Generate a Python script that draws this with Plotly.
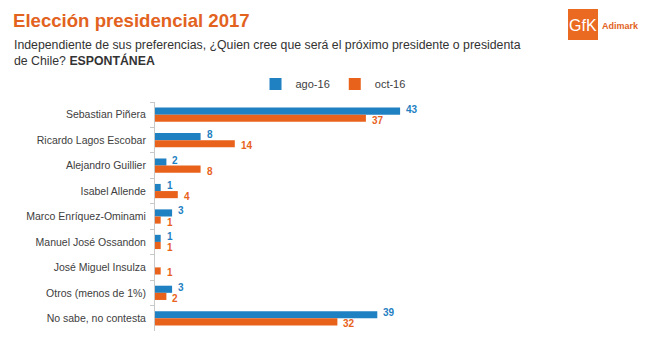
import plotly.graph_objects as go

# Survey data (percent)
candidates = [
    "Sebastian Piñera",
    "Ricardo Lagos Escobar",
    "Alejandro Guillier",
    "Isabel Allende",
    "Marco Enríquez-Ominami",
    "Manuel José Ossandon",
    "José Miguel Insulza",
    "Otros (menos de 1%)",
    "No sabe, no contesta",
]
ago16 = [43, 8, 2, 1, 3, 1, None, 3, 39]
oct16 = [37, 14, 8, 4, 1, 1, 1, 2, 32]

BLUE = "#1F80C2"
ORANGE = "#E8621C"

# page geometry
W_PAGE, H_PAGE = 649, 337
L, R, T, B = 155, 209, 102, 6
PW = W_PAGE - L - R
PH = H_PAGE - T - B
BARGAP = 0.44


def px(x):
    return (x - L) / PW


def py(y):
    return (H_PAGE - B - y) / PH


fig = go.Figure()
for name, vals, color in (("ago-16", ago16, BLUE), ("oct-16", oct16, ORANGE)):
    fig.add_trace(go.Bar(
        y=candidates, x=vals, name=name, orientation="h",
        marker=dict(color=color, line=dict(width=0)),
    ))

# value labels next to each bar end, nudged apart vertically
half = (1 - BARGAP) / 4
for i, cat in enumerate(candidates):
    for vals, color, off, shift in ((ago16, BLUE, -half, 2), (oct16, ORANGE, half, -2)):
        v = vals[i]
        if v is None:
            continue
        fig.add_annotation(
            x=v, y=i + off, xref="x", yref="y", text=f"<b>{v}</b>",
            showarrow=False, xanchor="left", yanchor="middle",
            xshift=4, yshift=shift,
            font=dict(family="Arial", size=10, color=color),
        )

fig.update_layout(
    width=W_PAGE, height=H_PAGE,
    margin=dict(l=L, r=R, t=T, b=B),
    paper_bgcolor="white", plot_bgcolor="white",
    barmode="group", bargap=BARGAP, bargroupgap=0,
    font=dict(family="Arial", color="#404040"),
    showlegend=True,
    legend=dict(
        orientation="h", x=px(333), xanchor="center", y=py(84), yanchor="middle",
        font=dict(size=11, color="#404040"), itemwidth=30,
        bgcolor="rgba(0,0,0,0)", traceorder="normal",
    ),
    xaxis=dict(range=[0, 50], visible=False, fixedrange=True),
    yaxis=dict(
        autorange="reversed", showline=True, linecolor="#c8c8c8", linewidth=1,
        ticks="outside", tickson="boundaries", ticklen=4, tickcolor="#c8c8c8",
        tickfont=dict(family="Arial", size=10.5, color="#404040"),
        showgrid=False, zeroline=False, ticklabelstandoff=6,
    ),
)

annotations = [
    dict(text="<b>Elección presidencial 2017</b>", x=px(11), y=py(20),
         font=dict(size=18.6, color="#E2621E", family="Arial")),
    dict(text="Independiente de sus preferencias, ¿Quien cree que será el próximo presidente o presidenta",
         x=px(12), y=py(45), font=dict(size=12.3, color="#333333", family="Arial")),
    dict(text="de Chile? <b>ESPONTÁNEA</b>", x=px(12), y=py(60),
         font=dict(size=12.3, color="#333333", family="Arial")),
    dict(text="GfK", x=px(583), y=py(25), xanchor="center",
         font=dict(size=16, color="white", family="Arial")),
    dict(text="<b>Adimark</b>", x=px(600), y=py(26),
         font=dict(size=9, color="#E2621E", family="Arial")),
]
for a in annotations:
    a.setdefault("xanchor", "left")
    fig.add_annotation(xref="paper", yref="paper", yanchor="middle",
                       showarrow=False, **a)

fig.add_shape(type="rect", xref="paper", yref="paper",
              x0=px(568), x1=px(598), y0=py(40), y1=py(9),
              fillcolor="#EA6A22", line=dict(width=0), layer="above")

fig.write_html("out.html")
